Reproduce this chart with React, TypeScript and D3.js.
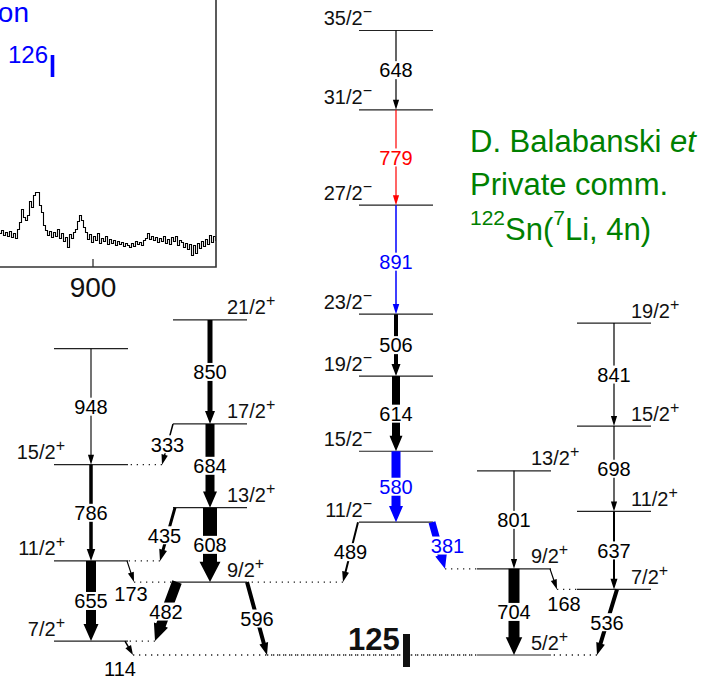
import React from 'react';
import * as d3 from 'd3';

const W = 702;
const H = 677;
const FONT = '"Liberation Sans", Arial, Helvetica, sans-serif';
const BLUE = '#0000ff';
const RED = '#ff0000';
const GREEN = '#008000';

// ---------- inset spectrum (counts per 2-keV bin starting at 800 keV) ----------
const SPEC_START = 800;
const SPEC_BIN = 2;
const SPEC_COUNTS = [
  33, 33, 35, 34, 37, 32, 35, 31, 36, 30, 34, 29, 38, 45, 58, 50, 47, 52, 66, 60,
  72, 75, 75, 62, 55, 42, 37, 32, 36, 30, 35, 31, 38, 29, 34, 26, 30, 20, 33, 29,
  35, 38, 46, 52, 47, 40, 35, 28, 33, 25, 31, 27, 34, 24, 29, 26, 31, 23, 28, 24,
  27, 22, 26, 23, 25, 21, 24, 22, 20, 24, 21, 26, 23, 25, 22, 27, 29, 34, 28, 31,
  27, 30, 25, 29, 26, 31, 24, 28, 23, 30, 26, 31, 22, 27, 25, 20, 24, 18, 23, 12,
  22, 14, 24, 19, 26, 21, 28, 23, 32, 25, 31, 27,
];
const SPEC_TICKS = [900];

// ---------- level scheme ----------
const BAND_IDS = ['A', 'B', 'C', 'D', 'E'];
const BAND_CENTERS = [91, 210, 396, 514, 614];
const BAND_LABEL_SIDE = ['leftA', 'right', 'leftC', 'right', 'right'];

// levels: [energy keV, band, spin, parity]
const LEVELS_A = [[114, 'A', '7/2', '+'], [769, 'A', '11/2', '+'], [1555, 'A', '15/2', '+'], [2503, 'A', '', '']];
const LEVELS_B = [[596, 'B', '9/2', '+'], [1204, 'B', '13/2', '+'], [1888, 'B', '17/2', '+'], [2738, 'B', '21/2', '+']];
const LEVELS_C = [
  [1085, 'C', '11/2', '−'], [1665, 'C', '15/2', '−'], [2279, 'C', '19/2', '−'], [2785, 'C', '23/2', '−'],
  [3676, 'C', '27/2', '−'], [4455, 'C', '31/2', '−'], [5103, 'C', '35/2', '−'],
];
const LEVELS_D = [[0, 'D', '5/2', '+'], [704, 'D', '9/2', '+'], [1505, 'D', '13/2', '+']];
const LEVELS_E = [[536, 'E', '7/2', '+'], [1173, 'E', '11/2', '+'], [1871, 'E', '15/2', '+'], [2712, 'E', '19/2', '+']];

// gammas: [energy, from level, to level, intensity width, colour, start dx, end dx (from band centre)]
const GAMMAS_C = [
  [648, 5103, 4455, 1.2, 'black', 0, 0],
  [779, 4455, 3676, 1.2, RED, 0, 0],
  [891, 3676, 2785, 1.5, BLUE, 0, 0],
  [506, 2785, 2279, 4, 'black', 0, 0],
  [614, 2279, 1665, 8, 'black', 0, 0],
  [580, 1665, 1085, 9, BLUE, 0, 0],
  [489, 1085, 596, 2, 'black', -38, -53],
  [381, 1085, 704, 7, BLUE, 36, 49],
];
const GAMMAS_A = [
  [948, 2503, 1555, 1.1, 'black', 0, 0],
  [786, 1555, 769, 3.5, 'black', 0, 0],
  [655, 769, 114, 10, 'black', 0, 0],
  [173, 769, 596, 1.2, 'black', 36, 43],
  [114, 114, 0, 1.5, 'black', 34, 42],
];
const GAMMAS_B = [
  [850, 2738, 1888, 5, 'black', 0, 0],
  [684, 1888, 1204, 9, 'black', 0, 0],
  [608, 1204, 596, 14, 'black', 0, 0],
  [333, 1888, 1555, 1.5, 'black', -37, -48],
  [435, 1204, 769, 3, 'black', -35, -50],
  [482, 596, 114, 10, 'black', -33, -55],
  [596, 596, 0, 4, 'black', 37, 57],
];
const GAMMAS_D = [
  [801, 1505, 704, 1.2, 'black', 0, 0],
  [704, 704, 0, 11, 'black', 0, 0],
  [168, 704, 536, 1.2, 'black', 36, 43],
];
const GAMMAS_E = [
  [841, 2712, 1871, 1.2, 'black', 0, 0],
  [698, 1871, 1173, 1.2, 'black', 0, 0],
  [637, 1173, 536, 2, 'black', 0, 0],
  [536, 536, 0, 4, 'black', 3, -17],
];
// label placement tweaks: [energy, mode, dx, dy]  mode 'tip' = relative to arrow tip, 'mid' = relative to midpoint
const LABEL_TWEAKS = [
  [381, 'mid', 9, 0],
  [173, 'tip', -3, 12],
  [114, 'tip', -13, 14],
  [168, 'tip', 7, 14],
  [435, 'mid', -3, 1],
  [891, 'mid', 0, 2],
];

const LEVEL_HALF = 37;

function arrowPoints(x1: number, y1: number, x2: number, y2: number, w: number) {
  const dx = x2 - x1, dy = y2 - y1;
  const L = Math.hypot(dx, dy);
  const ux = dx / L, uy = dy / L;
  const nx = -uy, ny = ux;
  const hw = w + Math.max(5, w * 0.5);
  const hl = Math.min(9 + w * 0.8, L * 0.6);
  const bx = x2 - ux * hl, by = y2 - uy * hl;
  const a = w / 2, b = hw / 2;
  const pts = [
    [x1 + nx * a, y1 + ny * a],
    [bx + nx * a, by + ny * a],
    [bx + nx * b, by + ny * b],
    [x2, y2],
    [bx - nx * b, by - ny * b],
    [bx - nx * a, by - ny * a],
    [x1 - nx * a, y1 - ny * a],
  ];
  return pts.map((p) => p[0].toFixed(2) + ',' + p[1].toFixed(2)).join(' ');
}

export default function App() {
  const y = d3.scaleLinear().domain([0, 5103]).range([655, 30.5]);
  const bandX = d3.scaleOrdinal<string, number>().domain(BAND_IDS).range(BAND_CENTERS);
  const bandSide = d3.scaleOrdinal<string, string>().domain(BAND_IDS).range(BAND_LABEL_SIDE);

  const levels = [...LEVELS_A, ...LEVELS_B, ...LEVELS_C, ...LEVELS_D, ...LEVELS_E].map((l) => ({
    E: l[0] as number, band: l[1] as string, spin: l[2] as string, par: l[3] as string,
  }));
  const levelByE = new Map(levels.map((l) => [l.E, l]));

  const gammas = [...GAMMAS_C, ...GAMMAS_A, ...GAMMAS_B, ...GAMMAS_D, ...GAMMAS_E].map((g) => {
    const from = levelByE.get(g[1] as number)!;
    const to = levelByE.get(g[2] as number)!;
    const cx = bandX(from.band);
    const x1 = cx + (g[5] as number);
    const x2 = cx + (g[6] as number);
    const y1 = y(from.E);
    const y2 = y(to.E);
    return { e: g[0] as number, from, to, w: g[3] as number, color: g[4] as string, x1, x2, y1, y2 };
  });

  // dotted connectors from arrow tips of cross-band gammas to target level ends
  const dotted = gammas
    .filter((g) => g.from.band !== g.to.band)
    .map((g) => {
      const tc = bandX(g.to.band);
      const left = tc - LEVEL_HALF, right = tc + LEVEL_HALF;
      const xEnd = g.x2 < left ? left : right;
      return { x1: g.x2, x2: xEnd, y: g.y2 };
    });

  const tweaks = new Map(LABEL_TWEAKS.map((t) => [t[0] as number, t]));
  const labelFs = 20;

  // spectrum
  const sx = d3.scaleLinear().domain([800, 1024]).range([-7, 217]);
  const sy = d3.scaleLinear().domain([0, 100]).range([267, 167]);
  const specPts: [number, number][] = SPEC_COUNTS.map((c, i) => [SPEC_START + i * SPEC_BIN, c]);
  specPts.push([SPEC_START + SPEC_COUNTS.length * SPEC_BIN, SPEC_COUNTS[SPEC_COUNTS.length - 1]]);
  const specLine = d3
    .line<[number, number]>()
    .x((d) => Math.round(sx(d[0])) + 0.5)
    .y((d) => Math.round(sy(d[1])) + 0.5)
    .curve(d3.curveStepAfter)(specPts)!;

  return (
    <svg
      width={W}
      height={H}
      viewBox={`0 0 ${W} ${H}`}
      style={{ position: 'absolute', left: 0, top: 0, background: 'white' }}
      fontFamily={FONT}
    >
      <defs>
        <clipPath id="insetClip">
          <rect x={0} y={0} width={216} height={267} />
        </clipPath>
      </defs>
      <rect x={0} y={0} width={W} height={H} fill="white" />

      {/* ---------- inset ---------- */}
      <g>
        <path d={specLine} fill="none" stroke="#000" strokeWidth={1.1} clipPath="url(#insetClip)" />
        <path d="M216,-5 V267 H-5" fill="none" stroke="#333" strokeWidth={1.6} />
        {SPEC_TICKS.map((t) => (
          <g key={t}>
            <line x1={sx(t)} x2={sx(t)} y1={259} y2={267} stroke="#333" strokeWidth={1.3} />
            <text x={sx(t)} y={297} fontSize={28} textAnchor="middle" fill="#111">
              {t}
            </text>
          </g>
        ))}
        <text x={29} y={22} fontSize={28} textAnchor="end" fill={BLUE}>
          on
        </text>
        <text x={8} y={63} fontSize={24} fill={BLUE}>
          126
        </text>
        <rect x={50.7} y={55} width={3.6} height={22} fill={BLUE} />
      </g>

      {/* ---------- levels ---------- */}
      {levels.map((l) => {
        const cx = bandX(l.band);
        return (
          <line
            key={'lv' + l.E}
            x1={cx - LEVEL_HALF}
            x2={cx + LEVEL_HALF}
            y1={y(l.E)}
            y2={y(l.E)}
            stroke="#222"
            strokeWidth={1.2}
          />
        );
      })}
      {dotted.map((d, i) => (
        <line
          key={'dt' + i}
          x1={d.x1}
          x2={d.x2}
          y1={d.y}
          y2={d.y}
          stroke="#222"
          strokeWidth={1.3}
          strokeDasharray="1.3,4.7"
        />
      ))}

      {/* ---------- gammas ---------- */}
      {gammas.map((g) => (
        <polygon key={'gp' + g.e} points={arrowPoints(g.x1, g.y1, g.x2, g.y2, g.w)} fill={g.color} />
      ))}
      {gammas.map((g) => {
        const tw = tweaks.get(g.e);
        let cx = (g.x1 + g.x2) / 2, cy = (g.y1 + g.y2) / 2;
        if (tw) {
          if (tw[1] === 'tip') {
            cx = g.x2;
            cy = g.y2;
          }
          cx += tw[2] as number;
          cy += tw[3] as number;
        }
        const txt = String(g.e);
        const wdt = txt.length * 0.556 * labelFs + 2;
        return (
          <g key={'gl' + g.e}>
            <rect x={cx - wdt / 2} y={cy - 9} width={wdt} height={18} fill="white" />
            <text x={cx} y={cy + 7.3} fontSize={labelFs} textAnchor="middle" fill={g.color}>
              {txt}
            </text>
          </g>
        );
      })}

      {/* ---------- spin labels ---------- */}
      {levels
        .filter((l) => l.spin)
        .map((l) => {
          const cx = bandX(l.band);
          const side = bandSide(l.band);
          let x = cx + 17;
          let anchor = 'start';
          if (side === 'leftA') {
            x = cx - 26;
            anchor = 'end';
          } else if (side === 'leftC') {
            x = cx - 24;
            anchor = 'end';
          }
          return (
            <text key={'sp' + l.E} x={x} y={y(l.E) - 5.5} fontSize={20} textAnchor={anchor} fill="#111">
              {l.spin}
              <tspan fontSize={16} dy={-8}>
                {l.par}
              </tspan>
            </text>
          );
        })}

      {/* ---------- 125 marker ---------- */}
      <text x={348} y={650} fontSize={31} fontWeight="bold" fill="#111">
        125
      </text>
      <rect x={403} y={634} width={7} height={33} fill="#111" />

      {/* ---------- reference text ---------- */}
      <g fill={GREEN} fontSize={31}>
        <text x={470} y={152}>
          D. Balabanski <tspan fontStyle="italic">et al.</tspan>
        </text>
        <text x={470} y={195}>Private comm.</text>
        <text x={470} y={240}>
          <tspan fontSize={21} dy={-15}>
            122
          </tspan>
          <tspan dy={15}>Sn(</tspan>
          <tspan fontSize={21} dy={-15}>
            7
          </tspan>
          <tspan dy={15}>Li, 4n)</tspan>
        </text>
      </g>
    </svg>
  );
}
